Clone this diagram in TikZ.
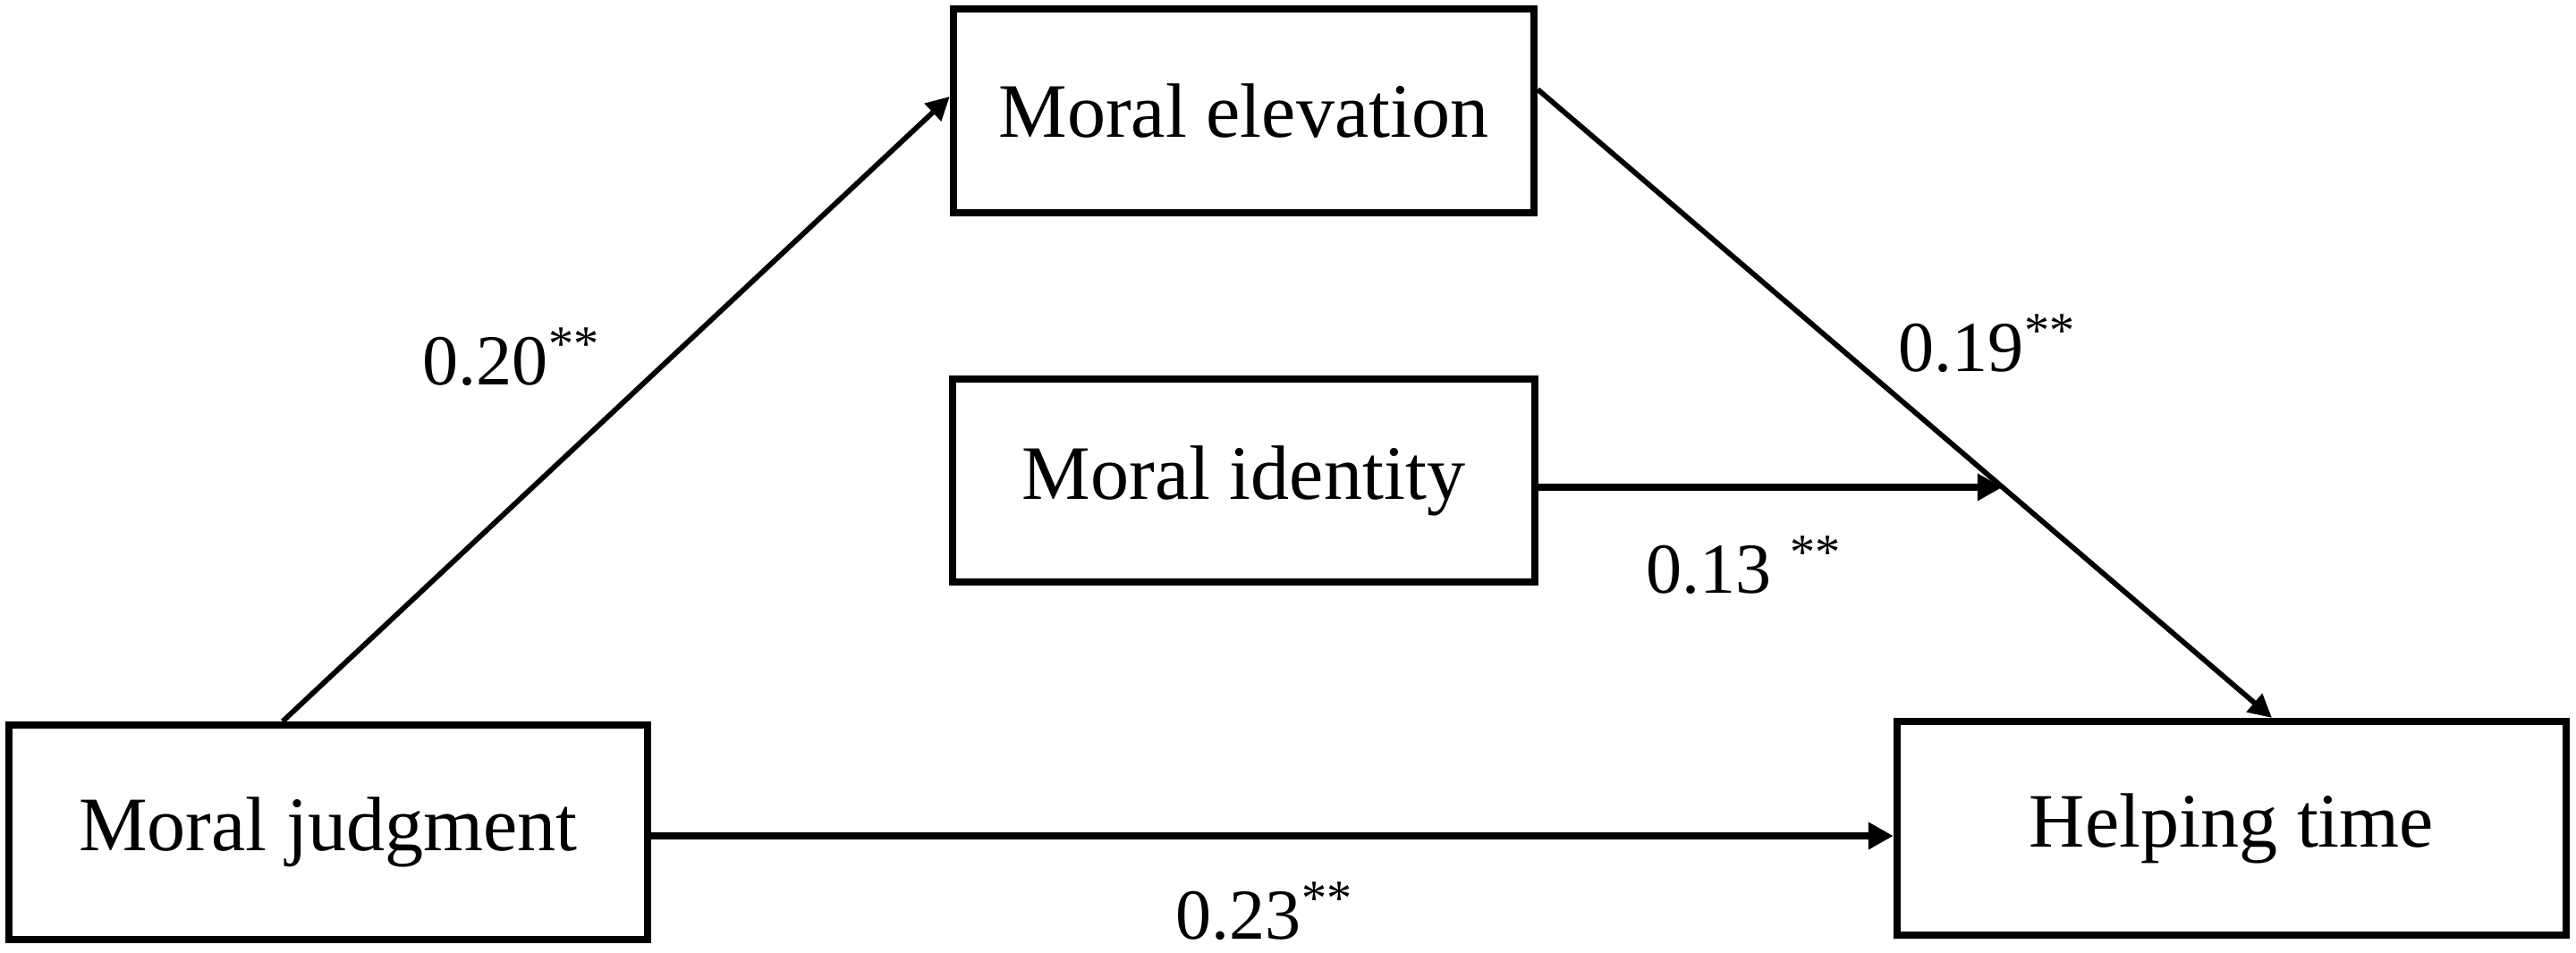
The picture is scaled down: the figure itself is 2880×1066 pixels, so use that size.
\documentclass[tikz,border=0pt]{standalone}
\usepackage{fontspec}
\setmainfont{Liberation Serif}
\usetikzlibrary{arrows.meta,calc}
\begin{document}
\begin{tikzpicture}[x=0.01cm,y=-0.01cm,
  box/.style={draw=black,line width=0.08cm,fill=white,inner sep=0pt,
    font=\fontsize{24.5}{28}\selectfont},
  conn/.style={line width=0.058cm,-{Triangle[length=0.26cm,width=0.26cm]}},
  hconn/.style={line width=0.075cm,-{Triangle[length=0.28cm,width=0.29cm]}},
  lab/.style={anchor=base west,inner sep=0pt,font=\fontsize{22.8}{26}\selectfont}]
\useasboundingbox (0,0) rectangle (2880,1066);
\node[box,minimum width=7.14cm,minimum height=2.40cm] (MJ) at (367,931) {Moral judgment};
\node[box,minimum width=6.49cm,minimum height=2.28cm] (ME) at (1390.5,124) {Moral elevation};
\node[box,minimum width=6.50cm,minimum height=2.27cm] (MI) at (1390.5,537.5) {Moral identity};
\node[box,minimum width=7.48cm,minimum height=2.39cm] (HT) at (2495,926.5) {Helping time};
% connectors
\draw[conn] ([xshift=-0.51cm]MJ.north) -- ([yshift=0.16cm]ME.west);
\coordinate (d1) at ([yshift=0.24cm]ME.east);
\coordinate (d2) at ([xshift=0.45cm]HT.north);
\draw[conn] (d1) -- (d2);
\coordinate (mod) at ($(d1)!0.633!(d2)$);
\draw[hconn] (MI.east |- mod) -- (mod);
\coordinate (hy) at ([yshift=-0.04cm]MJ.east);
\draw[hconn] (hy) -- (hy -| HT.west);
% labels
\node[lab] (l1) at (472,430) {0.20\textsuperscript{**}};
\node[lab] (l2) at (2122,415) {0.19\textsuperscript{**}};
\node[lab] (l3) at (1840,663) {0.13 \textsuperscript{**}};
\node[lab] (l4) at (1314,1050) {0.23\textsuperscript{**}};
\end{tikzpicture}
\end{document}
